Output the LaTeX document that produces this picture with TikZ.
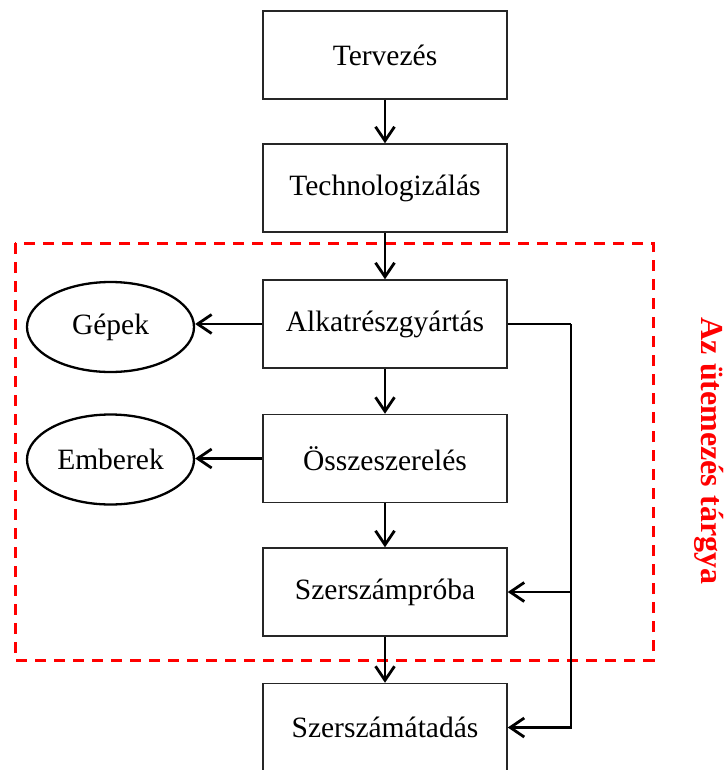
\documentclass[tikz,border=0pt]{standalone}
\usepackage{fontspec}
\setmainfont{Liberation Serif}
\usetikzlibrary{arrows.meta,shapes.geometric,calc}
\begin{document}
\begin{tikzpicture}[x=1pt,y=-1pt,
  stepbox/.style={draw=black!85,line width=1.5pt,minimum width=244pt,minimum height=88pt,inner sep=0pt,fill=white,font=\fontsize{29.5}{35}\selectfont},
  res/.style={draw=black,ellipse,line width=2.3pt,minimum width=167pt,minimum height=90pt,inner sep=0pt,font=\fontsize{29.5}{35}\selectfont},
  conn/.style={line width=2.8pt,-{Straight Barb[length=14pt,width=19pt,line width=2.8pt]}},
  plain/.style={line width=2.8pt},
  scopebox/.style={draw=red,line width=3pt,dash pattern=on 11pt off 8pt}]
\useasboundingbox (0,0) rectangle (726,770);
\draw[scopebox] (15,243) rectangle (653,660);
\node[stepbox] (t1) at (385,55) {Tervezés};
\node[stepbox] (t2) at (385,188) {Technologizálás};
\node[stepbox] (t3) at (385,324) {Alkatrészgyártás};
\node[stepbox] (t4) at (385,458.5) {Összeszerelés};
\node[stepbox] (t5) at (385,592) {Szerszámpróba};
\node[stepbox] (t6) at (385,727.5) {Szerszámátadás};
\node[res] (e1) at (110.5,327) {Gépek};
\node[res] (e2) at (110.5,459.5) {Emberek};
\node[text=red,rotate=-90,inner sep=0pt,font=\fontsize{32}{38}\selectfont\bfseries] (lab) at (709,451) {Az ütemezés tárgya};
\draw[conn] (t1) -- (t2);
\draw[conn] (t2) -- (t3);
\draw[conn] (t3) -- (t4);
\draw[conn] (t4) -- (t5);
\draw[conn] (t5) -- (t6);
\draw[conn] (t3.west) -- (e1.east |- t3.west);
\draw[conn] (t4.west) -- (e2.east |- t4.west);
\coordinate (fb) at (571,324);
\draw[plain] (t3.east) -- (fb);
\draw[conn] (fb) |- (t6.east);
\draw[conn] (fb |- t5.east) -- (t5.east);
\end{tikzpicture}
\end{document}
